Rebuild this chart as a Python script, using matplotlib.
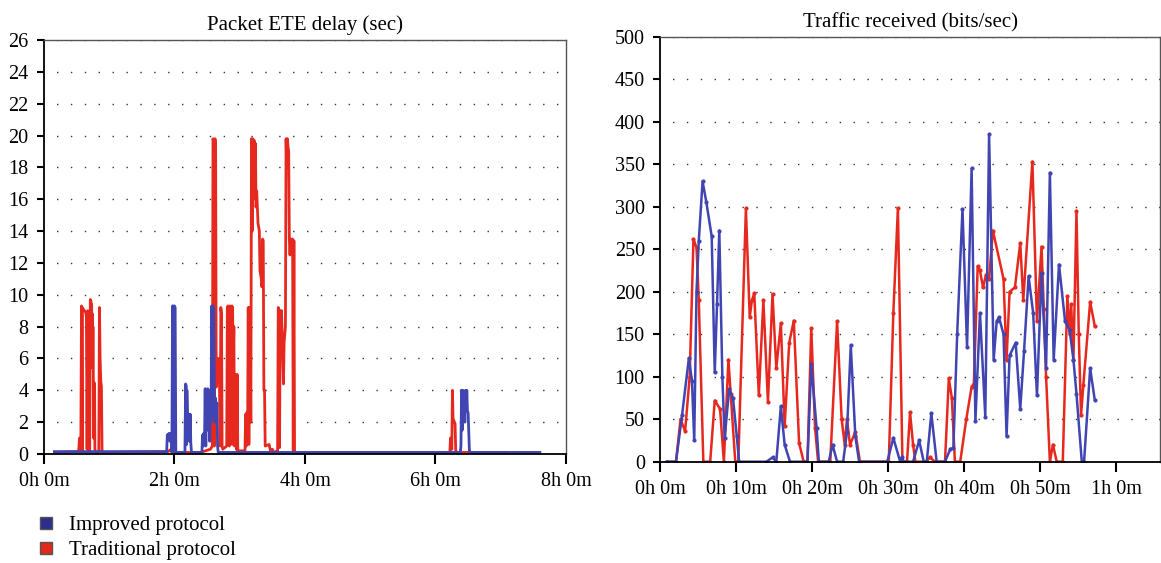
import matplotlib
matplotlib.use("Agg")
import matplotlib.pyplot as plt
from matplotlib.lines import Line2D
from matplotlib.ticker import FuncFormatter, MultipleLocator

plt.rcParams['font.family'] = ['Liberation Serif', 'DejaVu Serif']

# Packet ETE delay (hours, sec)
delay_trad_t = [0.16, 0.53, 0.545, 0.555, 0.565, 0.575, 0.585, 0.59, 0.60, 0.62, 0.64, 0.65, 0.66, 0.67, 0.68,
                0.69, 0.70, 0.71, 0.72, 0.725, 0.73, 0.735, 0.74, 0.745, 0.75, 0.755, 0.76, 0.765, 0.775, 0.78,
                0.79, 0.84, 0.85, 0.86, 0.87, 0.88, 0.89, 1.90, 1.95, 2.00, 2.40, 2.55, 2.58, 2.59, 2.60, 2.61,
                2.62, 2.63, 2.64, 2.65, 2.66, 2.67, 2.68, 2.69, 2.70, 2.71, 2.72, 2.73, 2.74, 2.80, 2.81, 2.815,
                2.82, 2.83, 2.835, 2.84, 2.85, 2.86, 2.865, 2.87, 2.88, 2.885, 2.89, 2.90, 2.91, 2.92, 2.93,
                2.94, 2.95, 2.96, 2.97, 3.08, 3.09, 3.10, 3.11, 3.12, 3.13, 3.14, 3.15, 3.16, 3.17, 3.18, 3.19,
                3.20, 3.21, 3.22, 3.23, 3.24, 3.25, 3.26, 3.28, 3.30, 3.31, 3.33, 3.34, 3.35, 3.36, 3.37, 3.38,
                3.39, 3.45, 3.47, 3.50, 3.52, 3.58, 3.59, 3.60, 3.61, 3.62, 3.63, 3.64, 3.66, 3.67, 3.68, 3.70,
                3.71, 3.72, 3.73, 3.74, 3.75, 3.76, 3.77, 3.78, 3.80, 3.81, 3.82, 3.83, 3.84, 6.22, 6.23, 6.24,
                6.25, 6.26, 6.27, 6.28, 6.29, 6.30, 6.31, 6.33, 7.10]
delay_trad_v = [0.1, 0.15, 1.0, 0.3, 1.1, 9.3, 0.2, 9.2, 9.1, 9.0, 8.9, 8.6, 0.3, 9.0, 8.8,
                0.2, 0.1, 9.7, 9.6, 5.5, 9.4, 6.0, 8.8, 5.4, 8.0, 5.5, 1.0, 4.5, 4.4, 0.3,
                0.1, 0.1, 9.2, 6.0, 4.6, 4.2, 0.1, 0.15, 0.3, 0.1, 0.1, 0.3, 0.5, 19.8, 19.6, 0.5,
                19.8, 19.5, 4.2, 5.9, 4.5, 6.0, 5.2, 4.3, 0.5, 9.2, 8.8, 0.5, 0.3, 0.5, 9.2, 0.6,
                9.3, 4.5, 9.2, 0.5, 9.3, 6.0, 9.2, 3.0, 9.3, 0.6, 9.2, 5.5, 8.0, 0.5, 5.0,
                4.8, 0.3, 5.0, 0.2, 0.2, 2.5, 0.5, 2.6, 1.0, 9.2, 0.6, 9.2, 8.5, 2.0, 19.8, 14.0,
                19.8, 16.0, 19.7, 17.0, 19.5, 15.5, 16.5, 14.5, 14.0, 11.5, 11.0, 10.5, 13.5, 13.4, 4.0, 4.0,
                0.5, 0.6, 0.2, 0.3, 0.1, 0.2, 9.2, 9.0, 0.4, 9.0, 8.0, 9.0, 6.0, 4.4, 7.0, 8.0,
                19.8, 18.0, 19.8, 19.3, 19.0, 13.5, 12.5, 13.5, 13.4, 13.5, 0.2, 13.4, 0.1, 0.1, 1.0, 1.0,
                0.3, 4.0, 2.0, 2.1, 2.0, 1.9, 0.2, 0.1, 0.1]

delay_impr_t = [0.16, 1.88, 1.89, 1.92, 1.93, 1.95, 1.96, 1.97, 1.98, 1.99, 2.00, 2.01, 2.02, 2.16, 2.17, 2.18,
                2.185, 2.19, 2.20, 2.21, 2.22, 2.23, 2.24, 2.25, 2.26, 2.42, 2.43, 2.44, 2.45, 2.46, 2.47, 2.48,
                2.49, 2.50, 2.51, 2.52, 2.53, 2.54, 2.55, 2.56, 2.57, 2.58, 2.585, 2.59, 2.60, 2.61, 2.62, 2.63,
                2.64, 2.65, 2.66, 2.67, 6.38, 6.39, 6.40, 6.41, 6.42, 6.43, 6.44, 6.45, 6.46, 6.47, 6.48, 6.49,
                6.50, 6.52, 6.54, 7.60]
delay_impr_v = [0.15, 0.15, 1.2, 1.3, 0.8, 1.3, 0.1, 9.3, 9.3, 0.2, 9.3, 9.2, 0.1, 0.1, 4.4, 4.3,
                0.6, 4.0, 2.2, 1.5, 2.5, 0.8, 2.5, 0.7, 0.1, 0.1, 1.2, 0.5, 1.3, 0.8, 4.1, 0.5,
                4.0, 1.5, 4.1, 2.0, 3.5, 0.8, 4.0, 2.0, 9.3, 2.5, 9.3, 3.0, 9.2, 4.0, 2.0, 3.5,
                2.5, 3.2, 0.5, 0.1, 0.1, 0.5, 4.0, 1.5, 4.0, 2.5, 3.0, 2.0, 4.0, 2.7, 4.0, 2.7,
                2.6, 0.2, 0.1, 0.1]

# Traffic received (minutes, bits/sec)
traffic_trad_t = [0.9, 2.1, 2.7, 3.3, 3.9, 4.4, 4.8, 5.1, 5.7, 6.6, 7.2, 7.9, 8.4, 9.0, 9.3, 9.9, 10.3, 11.3,
                  11.8, 12.1, 12.4, 13.0, 13.6, 14.2, 14.8, 15.3, 15.9, 16.4, 17.0, 17.6, 18.3, 18.9, 19.4,
                  19.9, 20.4, 20.8, 22.4, 23.3, 23.9, 24.3, 24.6, 25.0, 25.7, 26.3, 30.1, 30.7, 31.3, 31.9,
                  32.5, 32.9, 33.3, 33.6, 35.0, 35.5, 36.2, 37.5, 38.0, 38.4, 38.8, 39.5, 40.3, 41.0, 41.3,
                  41.8, 42.1, 42.5, 42.9, 43.3, 43.8, 45.2, 45.6, 46.0, 46.7, 47.4, 47.8, 49.0, 49.6, 50.2,
                  50.5, 50.8, 51.3, 51.7, 52.2, 53.0, 53.6, 53.9, 54.1, 54.4, 54.8, 55.1, 55.4, 55.7, 56.6, 57.2]
traffic_trad_v = [0, 0, 50, 36, 100, 262, 252, 190, 0, 0, 72, 62, 0, 120, 80, 0, 0, 298,
                  170, 190, 198, 78, 190, 70, 197, 110, 163, 42, 140, 166, 22, 0, 0,
                  157, 40, 0, 0, 165, 50, 20, 50, 20, 35, 0, 0, 175, 298, 0,
                  0, 58, 20, 0, 0, 5, 0, 0, 98, 75, 0, 0, 50, 88, 92,
                  230, 225, 205, 220, 215, 272, 215, 120, 200, 205, 257, 190, 353, 165, 253,
                  180, 100, 0, 20, 0, 0, 195, 150, 185, 120, 295, 150, 55, 90, 188, 160]

traffic_impr_t = [0.9, 2.1, 2.9, 3.8, 4.2, 4.5, 4.8, 5.1, 5.6, 6.1, 6.8, 7.2, 7.5, 7.8, 8.2, 8.5, 9.1, 9.6,
                  10.1, 10.4, 14.0, 14.8, 15.3, 15.9, 16.4, 17.1, 19.4, 19.9, 20.6, 20.9, 22.2, 22.7, 23.3,
                  24.1, 24.6, 25.1, 25.7, 26.2, 29.9, 30.7, 31.6, 31.8, 32.1, 33.3, 34.1, 34.7, 35.1, 35.7,
                  36.4, 37.5, 38.2, 38.6, 39.1, 39.8, 40.4, 41.0, 41.5, 42.1, 42.8, 43.3, 43.9, 44.3, 44.6,
                  45.2, 45.6, 46.0, 46.8, 47.4, 47.9, 48.5, 49.1, 49.6, 50.2, 50.8, 51.3, 51.8, 52.5, 53.3,
                  53.9, 54.4, 54.8, 55.5, 55.8, 56.6, 57.2]
traffic_impr_v = [0, 0, 55, 122, 95, 25, 200, 260, 330, 305, 265, 105, 185, 272, 100, 28, 85, 75,
                  30, 0, 0, 5, 0, 65, 20, 0, 0, 115, 40, 0, 0, 20, 0,
                  0, 35, 137, 30, 0, 0, 28, 0, 5, 0, 0, 25, 0, 0, 57,
                  0, 0, 15, 16, 150, 297, 135, 345, 48, 175, 53, 385, 120, 165, 170,
                  150, 30, 125, 140, 62, 130, 218, 175, 78, 222, 110, 340, 120, 232, 165,
                  155, 120, 80, 0, 0, 110, 73]

BLUE = '#4045b2'
RED = '#e6281e'


def style_axes(ax):
    ax.spines['left'].set_linewidth(1.3)
    ax.spines['bottom'].set_linewidth(1.3)
    for s in ('top', 'right'):
        ax.spines[s].set_color('#555555')
        ax.spines[s].set_linewidth(1.0)
    ax.tick_params(axis='both', which='major', direction='out', length=5, width=1.5,
                   labelsize=14.5, top=False, right=False)
    ax.tick_params(axis='y', pad=6)
    ax.tick_params(axis='x', length=7, pad=6)
    ax.yaxis.grid(True, linestyle=(1, (1, 9)), color='#333333', linewidth=1.0)
    ax.set_axisbelow(True)


fig = plt.figure(figsize=(11.61, 5.63), dpi=100)

ax1 = fig.add_axes([0.0379, 0.1936, 0.4496, 0.7353])
ax1.plot(delay_trad_t, delay_trad_v, color=RED, lw=2.0)
ax1.plot(delay_impr_t, delay_impr_v, color=BLUE, lw=2.0)
ax1.set_xlim(0, 8)
ax1.set_ylim(0, 26)
ax1.xaxis.set_major_locator(MultipleLocator(2))
ax1.yaxis.set_major_locator(MultipleLocator(2))
ax1.xaxis.set_major_formatter(FuncFormatter(lambda v, p: '%dh 0m' % round(v)))
ax1.set_title('Packet ETE delay (sec)', fontsize=15, pad=7)
style_axes(ax1)

ax2 = fig.add_axes([0.5685, 0.1799, 0.4307, 0.7549])
ax2.plot(traffic_trad_t, traffic_trad_v, color=RED, lw=1.8, marker='o', ms=2)
ax2.plot(traffic_impr_t, traffic_impr_v, color=BLUE, lw=1.8, marker='o', ms=2)
ax2.set_xlim(0, 65.8)
ax2.set_ylim(0, 500)
ax2.xaxis.set_major_locator(MultipleLocator(10))
ax2.yaxis.set_major_locator(MultipleLocator(50))
ax2.xaxis.set_major_formatter(FuncFormatter(lambda v, p: '%dh %dm' % divmod(round(v), 60)))
ax2.set_title('Traffic received (bits/sec)', fontsize=15, pad=7)
style_axes(ax2)

handles = [Line2D([], [], ls='none', marker='s', ms=8.5, mfc='#2e2f8c', mec='#555555', mew=1.0),
           Line2D([], [], ls='none', marker='s', ms=8.5, mfc='#e0291d', mec='#555555', mew=1.0)]
fig.legend(handles, ['Improved protocol', 'Traditional protocol'], loc='upper left',
           bbox_to_anchor=(0.031, 0.084), frameon=False, fontsize=15, borderpad=0,
           borderaxespad=0, handlelength=1.0, handletextpad=0.6, labelspacing=0.25)

fig.savefig('out.png', dpi=100)
